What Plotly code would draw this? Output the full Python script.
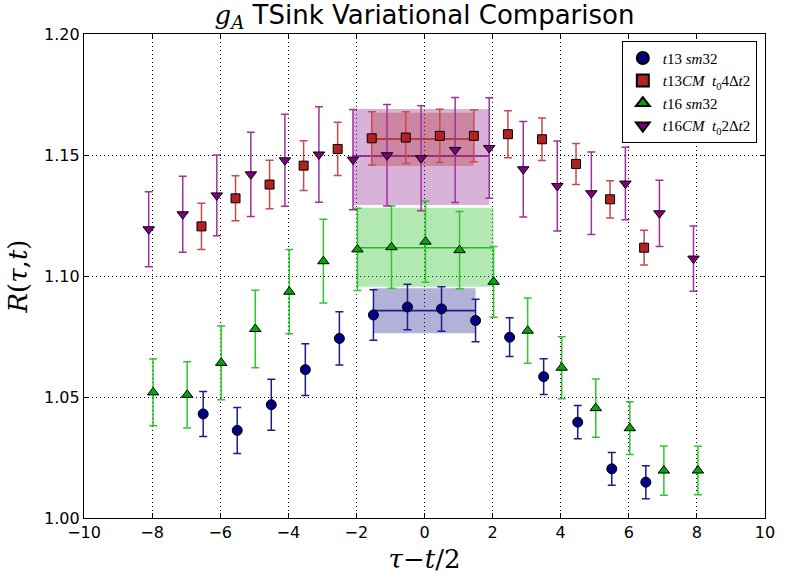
import plotly.graph_objects as go

# Ratio R(tau, t) versus tau - t/2 for four sink setups
tau_half = [-6.5, -5.5, -4.5, -3.5, -2.5, -1.5, -0.5, 0.5, 1.5, 2.5, 3.5, 4.5, 5.5, 6.5]
tau_int = [-8, -7, -6, -5, -4, -3, -2, -1, 0, 1, 2, 3, 4, 5, 6, 7, 8]

t13_sm32 = [1.0430, 1.0362, 1.0468, 1.0613, 1.0742, 1.0839, 1.0872,
            1.0864, 1.0816, 1.0747, 1.0584, 1.0396, 1.0203, 1.0148]
t13_sm32_err = [0.0093, 0.0095, 0.0105, 0.0107, 0.0110, 0.0104, 0.0094,
                0.0092, 0.0088, 0.0080, 0.0074, 0.0069, 0.0068, 0.0068]

t13_cm = [1.1205, 1.1321, 1.1378, 1.1456, 1.1525, 1.1569, 1.1572,
          1.1579, 1.1579, 1.1586, 1.1565, 1.1463, 1.1317, 1.1117]
t13_cm_err = [0.0096, 0.0093, 0.0100, 0.0103, 0.0110, 0.0110, 0.0107,
              0.0110, 0.0107, 0.0097, 0.0088, 0.0085, 0.0077, 0.0072]

t16_sm32 = [1.0519, 1.0509, 1.0641, 1.0781, 1.0935, 1.1061, 1.1110, 1.1119, 1.1142,
            1.1107, 1.0976, 1.0774, 1.0621, 1.0454, 1.0371, 1.0196, 1.0196]
t16_sm32_err = [0.0138, 0.0137, 0.0152, 0.0160, 0.0174, 0.0173, 0.0170, 0.0170, 0.0168,
                0.0160, 0.0146, 0.0135, 0.0128, 0.0120, 0.0109, 0.0102, 0.0100]

t16_cm = [1.1193, 1.1255, 1.1333, 1.1420, 1.1478, 1.1502, 1.1481, 1.1499, 1.1487,
          1.1521, 1.1529, 1.1441, 1.1372, 1.1342, 1.1382, 1.1259, 1.1072]
t16_cm_err = [0.0155, 0.0157, 0.0167, 0.0174, 0.0190, 0.0197, 0.0207, 0.0210, 0.0217,
              0.0217, 0.0208, 0.0197, 0.0186, 0.0170, 0.0150, 0.0137, 0.0135]

# Plateau fits: (value, low, high, tau_start, tau_end)
fit_t13_sm32 = (1.0857, 1.0763, 1.0949, -1.5, 1.5)
fit_t13_cm = (1.1566, 1.1455, 1.1675, -1.5, 1.5)
fit_t16_sm32 = (1.1117, 1.0956, 1.1282, -2.0, 2.0)
fit_t16_cm = (1.1496, 1.1293, 1.1690, -2.0, 2.0)

x_ticks = [-10, -8, -6, -4, -2, 0, 2, 4, 6, 8, 10]
y_ticks = [1.00, 1.05, 1.10, 1.15, 1.20]

series = [
    dict(name="<i>t</i>13 <i>sm</i>32", x=tau_half, y=t13_sm32, e=t13_sm32_err,
         shift=0.0, symbol="circle", size=10, fill="#000080", bar="#1c1c8c", line="#1c1c8c",
         fit=fit_t13_sm32, band="rgba(0,0,128,0.3)"),
    dict(name="<i>t</i>13<i>CM</i>  <i>t</i><sub>0</sub>4Δ<i>t</i>2", x=tau_half, y=t13_cm, e=t13_cm_err,
         shift=-0.05, symbol="square", size=9, fill="#b22222", bar="#c94a4a", line="#b22222",
         fit=fit_t13_cm, band="rgba(178,34,34,0.3)"),
    dict(name="<i>t</i>16 <i>sm</i>32", x=tau_int, y=t16_sm32, e=t16_sm32_err,
         shift=0.03, symbol="triangle-up", size=10, fill="#00a800", bar="#2ec82e", line="#22bb22",
         fit=fit_t16_sm32, band="rgba(0,180,0,0.3)"),
    dict(name="<i>t</i>16<i>CM</i>  <i>t</i><sub>0</sub>2Δ<i>t</i>2", x=tau_int, y=t16_cm, e=t16_cm_err,
         shift=-0.1, symbol="triangle-down", size=10, fill="#800080", bar="#a032a0", line="#8a108a",
         fit=fit_t16_cm, band="rgba(128,0,128,0.3)"),
]

fig = go.Figure()

# fit bands and central lines (drawn first so the points sit on top)
for s in [series[3], series[2], series[0], series[1]]:
    val, lo, hi, a, b = s["fit"]
    a += s["shift"]
    b += s["shift"]
    fig.add_trace(go.Scatter(
        x=[a, b, b, a, a], y=[lo, lo, hi, hi, lo], mode="lines",
        fill="toself", fillcolor=s["band"], line=dict(width=0),
        showlegend=False, hoverinfo="skip"))
    fig.add_trace(go.Scatter(
        x=[a, b], y=[val, val], mode="lines",
        line=dict(color=s["line"], width=1.6),
        showlegend=False, hoverinfo="skip"))

for s in series:
    fig.add_trace(go.Scatter(
        x=[v + s["shift"] for v in s["x"]], y=s["y"], name=s["name"], mode="markers",
        marker=dict(symbol=s["symbol"], size=s["size"], color=s["fill"],
                    line=dict(color="black", width=1)),
        error_y=dict(type="data", array=s["e"], visible=True,
                     color=s["bar"], thickness=1.5, width=4),
    ))

axis_common = dict(
    showline=True, linecolor="black", linewidth=1.2, mirror="ticks",
    ticks="inside", ticklen=5, tickcolor="black",
    showgrid=True, gridcolor="black", gridwidth=1, griddash="1px,3px",
    zeroline=False,
    tickfont=dict(family="DejaVu Sans", size=16, color="black"),
)

fig.update_xaxes(range=[-10, 10], tickvals=x_ticks,
                 title=dict(text="<i>τ</i>−<i>t</i>/2", standoff=8,
                            font=dict(family="DejaVu Serif", size=26, color="black")),
                 **axis_common)
fig.update_yaxes(range=[1.00, 1.20], tickvals=y_ticks, tickformat=".2f",
                 title=dict(text="<i>R</i>(<i>τ</i>,<i>t</i>)", standoff=8,
                            font=dict(family="DejaVu Serif", size=26, color="black")),
                 **axis_common)

fig.update_layout(
    width=787, height=580,
    margin=dict(l=84, r=14, t=34, b=62),
    paper_bgcolor="white", plot_bgcolor="white",
    title=dict(text="<i><span style='font-family:DejaVu Serif'>g<sub>A</sub></span></i> TSink Variational Comparison",
               xref="paper", x=0.5, xanchor="center",
               yref="container", y=0.975, yanchor="middle",
               font=dict(family="DejaVu Sans", size=26, color="black")),
    legend=dict(x=0.988, xanchor="right", y=0.986, yanchor="top",
                bgcolor="white", bordercolor="black", borderwidth=1,
                font=dict(family="Liberation Serif", size=15, color="black"),
                itemsizing="constant"),
    showlegend=True,
)

fig.write_html("out.html")
